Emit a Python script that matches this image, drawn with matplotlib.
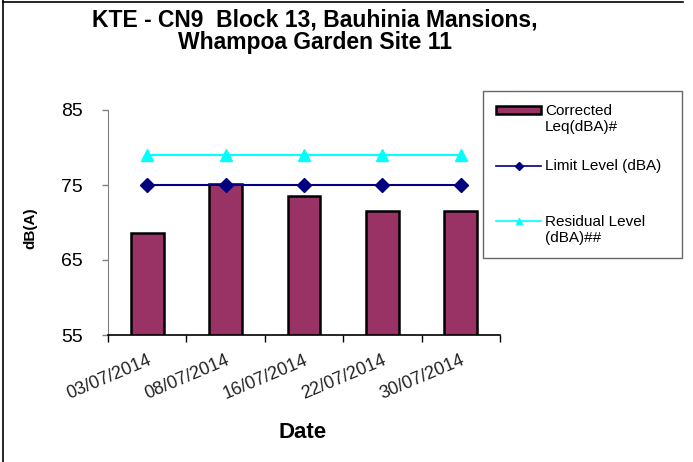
import matplotlib.pyplot as plt
import numpy as np
from matplotlib.lines import Line2D
from matplotlib.patches import Patch
from matplotlib.legend_handler import HandlerLine2D, HandlerPatch
from matplotlib.transforms import Affine2D

plt.rcParams['font.family'] = ['Liberation Sans', 'DejaVu Sans']

dates = ["03/07/2014", "08/07/2014", "16/07/2014", "22/07/2014", "30/07/2014"]
corrected = [68.6, 75.1, 73.6, 71.6, 71.6]
limit = [75, 75, 75, 75, 75]
residual = [79, 79, 79, 79, 79]


# legend handles sit next to the first line of a two line label
class UpLine(HandlerLine2D):
    def create_artists(self, legend, orig_handle, xdescent, ydescent, width, height, fontsize, trans):
        return super().create_artists(legend, orig_handle, xdescent, ydescent, width, height,
                                      fontsize, Affine2D().translate(0, 6.6) + trans)


class UpPatch(HandlerPatch):
    def create_artists(self, legend, orig_handle, xdescent, ydescent, width, height, fontsize, trans):
        return super().create_artists(legend, orig_handle, xdescent, ydescent, width, height,
                                      fontsize, Affine2D().translate(0, 6.6) + trans)


W, H = 693, 462
fig = plt.figure(figsize=(W / 100, H / 100), dpi=100)
ax = fig.add_axes([108 / W, 1 - 335 / H, 392 / W, 225 / H])

x = np.arange(len(dates))
ax.bar(x, corrected, width=0.42, bottom=0, color='#993366', edgecolor='black', linewidth=1.8, zorder=2)
ax.plot(x, limit, color='#000080', marker='D', markersize=7, linewidth=1.5, zorder=3)
ax.plot(x, residual, color='#00FFFF', marker='^', markersize=9, linewidth=1.5, zorder=3)

ax.set_xlim(-0.5, len(dates) - 0.5)
ax.set_ylim(55, 85)
ax.set_yticks([55, 65, 75, 85])
ax.tick_params(axis='y', labelsize=14, length=4.3, width=1, color='#808080', pad=14)
ax.set_xticks(np.arange(len(dates) + 1) - 0.5)
ax.set_xticklabels([])
ax.set_xticks(x, minor=True)
ax.set_xticklabels(dates, minor=True, rotation=23, ha='right', rotation_mode='anchor', fontsize=13, color='#222222')
ax.tick_params(axis='x', which='major', length=5, width=1, color='black')
ax.tick_params(axis='x', which='minor', length=0, pad=12)
ax.spines['top'].set_visible(False)
ax.spines['right'].set_visible(False)
ax.spines['left'].set_color('#808080')
ax.spines['bottom'].set_color('black')
ax.spines['bottom'].set_linewidth(1.2)

fig.text(30 / W, 1 - 228 / H, 'dB(A)', rotation=90, ha='center', va='center', fontsize=11, fontweight='bold')
fig.text(303 / W, 1 - 432 / H, 'Date', ha='center', va='center', fontsize=16, fontweight='bold')
fig.text(315 / W, 1 - 31 / H, 'KTE - CN9  Block 13, Bauhinia Mansions,\nWhampoa Garden Site 11',
         ha='center', va='center', fontsize=16.5, fontweight='bold', linespacing=0.95)

h_bar = Patch(facecolor='#993366', edgecolor='black', linewidth=1.8)
h_lim = Line2D([], [], color='#000080', marker='D', markersize=4, linewidth=1.2)
h_res = Line2D([], [], color='#00FFFF', marker='^', markersize=5, linewidth=1.2)
labels = ['Corrected\nLeq(dBA)#', 'Limit Level (dBA)\n', 'Residual Level\n(dBA)##']
leg = fig.legend([h_bar, h_lim, h_res], labels, loc='upper left',
                 bbox_to_anchor=(483 / W, 1 - 258 / H, 199 / W, 167 / H), mode='expand',
                 handler_map={h_bar: UpPatch(), h_lim: UpLine(), h_res: UpLine()},
                 fontsize=11, frameon=True, fancybox=False, edgecolor='#404040',
                 handlelength=2.95, handleheight=0.45, labelspacing=1.65, borderpad=0.85,
                 handletextpad=0.26, borderaxespad=0)
leg.get_frame().set_linewidth(1.0)
leg.set_zorder(10)

fig.add_artist(Line2D([3 / W, 3 / W], [0, 1], color='black', linewidth=1.2))
fig.add_artist(Line2D([3 / W, 683 / W], [1 - 1.5 / H, 1 - 1.5 / H], color='black', linewidth=1.2))

fig.savefig('out.png', dpi=100)
